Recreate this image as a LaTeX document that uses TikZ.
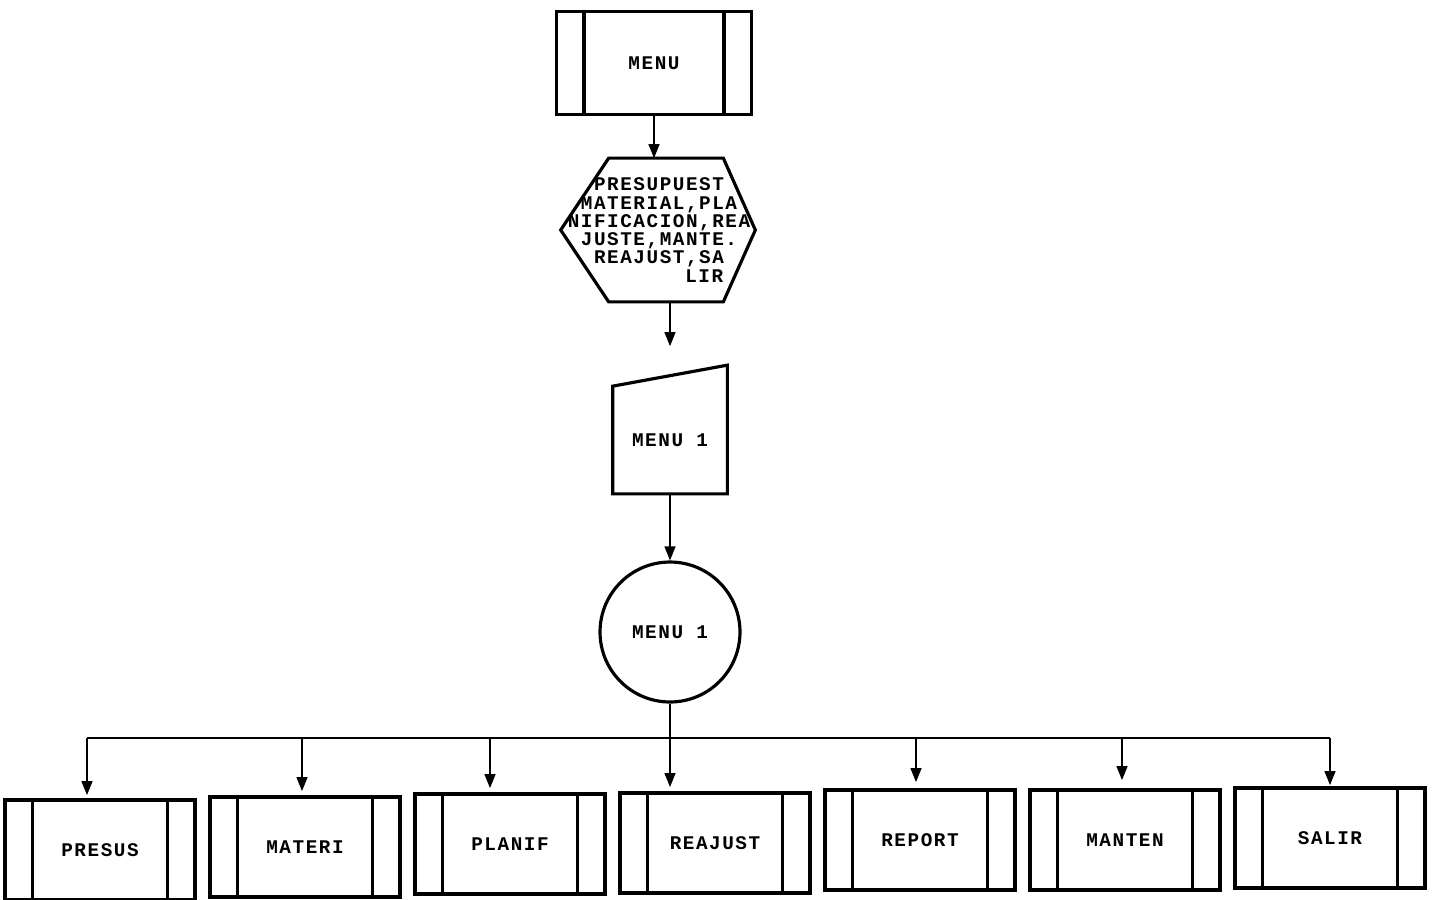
\documentclass[tikz,border=0pt]{standalone}
\usepackage{fontspec}
\setmonofont[LetterSpace=8]{Liberation Mono}
\usetikzlibrary{arrows.meta, positioning, calc}

\begin{document}
\begin{tikzpicture}[x=0.02cm, y=-0.02cm, >={Triangle[length=0.28cm, width=0.22cm]},
    font=\ttfamily\bfseries\fontsize{11}{10.4}\selectfont,
    subr/.style={rectangle, draw=black, line width=2.2pt, minimum width=3.8cm, minimum height=2cm, inner sep=0pt,
      path picture={\draw[line width=2.2pt] ([xshift=0.55cm]path picture bounding box.north west) -- ([xshift=0.55cm]path picture bounding box.south west);
                    \draw[line width=2.2pt] ([xshift=-0.55cm]path picture bounding box.north east) -- ([xshift=-0.55cm]path picture bounding box.south east);}},
    flow/.style={->, line width=0.7pt},
    outline/.style={line width=1.8pt}]

    \useasboundingbox (0,0) rectangle (1432,899);

    \node (menu) [subr, minimum width=3.9cm, minimum height=2.06cm] at (654,63) {MENU};

    %% options
    \node (opcs) [minimum width=3.84cm, minimum height=2.86cm, inner sep=0pt, align=center] at (659,230)
        {PRESUPUEST\\MATERIAL,PLA\\NIFICACION,REA\\JUSTE,MANTE.\\REAJUST,SA\\\hphantom{REAJUST}LIR};
    \draw[outline] ([xshift=-0.04cm]opcs.west) -- ($(opcs.north west)+(46,0)$) -- ($(opcs.north east)+(-32,0)$) -- (opcs.east)
        -- ($(opcs.south east)+(-32,0)$) -- ($(opcs.south west)+(46,0)$) -- cycle;

    %% manual input
    \node (menu1) [minimum width=2.28cm, minimum height=2.14cm, inner sep=0pt] at (670,440) {MENU 1};
    \draw[outline] (menu1.north west) -- ($(menu1.north east)+(0,-21)$) -- (menu1.south east) -- (menu1.south west) -- cycle;

    \node (elec) [circle, draw, outline, minimum size=2.8cm, inner sep=0pt] at (670,632) {MENU 1};

    \draw[flow] (menu.south) -- (menu.south |- opcs.north);
    \draw[flow] (opcs.south -| menu1.north) -- ([yshift=0.8cm]menu1.north);
    \draw[flow] (menu1) -- (elec);

    %% sub-programs
    \node (presus) [subr] at (100,850) {PRESUS};
    \node (materi) [subr] at (305,847) {MATERI};
    \node (planif) [subr] at (510,844) {PLANIF};
    \node (reajust) [subr] at (715,843) {REAJUST};
    \node (report) [subr] at (920,840) {REPORT};
    \node (manten) [subr] at (1125,840) {MANTEN};
    \node (salir) [subr] at (1330,838) {SALIR};

    \coordinate (dpre) at (87,738);
    \coordinate (dmat) at (302,738);
    \coordinate (dpla) at (490,738);
    \coordinate (drep) at (916,738);
    \coordinate (dman) at (1122,738);
    \coordinate (dsal) at (1330,738);

    \draw[line width=0.7pt] (dpre) -- (dsal);
    \draw[flow] (elec.south) -- ([yshift=0.08cm]elec.south |- reajust.north);
    \draw[flow] (dpre) -- ([yshift=0.06cm]dpre |- presus.north);
    \draw[flow] (dmat) -- ([yshift=0.08cm]dmat |- materi.north);
    \draw[flow] (dpla) -- ([yshift=0.08cm]dpla |- planif.north);
    \draw[flow] (drep) -- ([yshift=0.12cm]drep |- report.north);
    \draw[flow] (dman) -- ([yshift=0.16cm]dman |- manten.north);
    \draw[flow] (dsal) -- ([yshift=0.02cm]dsal |- salir.north);

\end{tikzpicture}
\end{document}
